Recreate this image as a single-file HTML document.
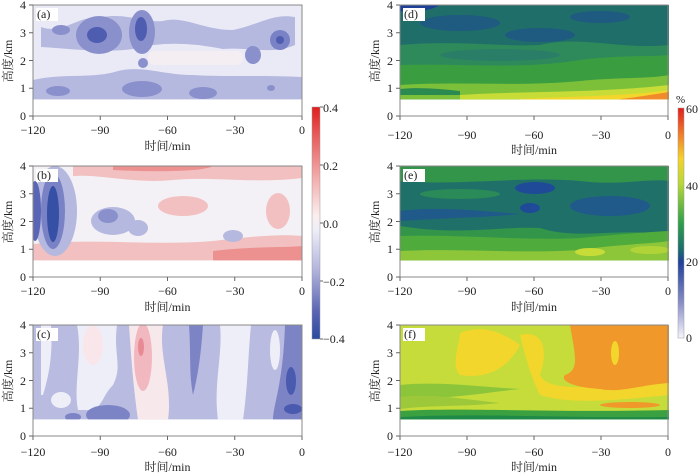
<!DOCTYPE html>
<html><head><meta charset="utf-8"><style>
html,body{margin:0;padding:0;background:#fff;}
svg{display:block;font-family:"Liberation Serif","Noto Serif CJK SC",serif;}
.t{font-size:12px;fill:#222;}
.ax{fill:none;stroke:#888;stroke-width:1;}
</style></head><body>
<svg width="700" height="473" viewBox="0 0 700 473" xmlns="http://www.w3.org/2000/svg">
<defs>
<clipPath id="cp"><rect x="0" y="0" width="269" height="94.4"/></clipPath>
<linearGradient id="gl" x1="0" y1="0" x2="0" y2="1">
<stop offset="0" stop-color="#e01e1e"/><stop offset="0.12" stop-color="#e85a5a"/><stop offset="0.3" stop-color="#f3aaaa"/><stop offset="0.47" stop-color="#fbeeee"/><stop offset="0.53" stop-color="#eeeef8"/><stop offset="0.7" stop-color="#b3b5dd"/><stop offset="0.88" stop-color="#5a66b5"/><stop offset="1" stop-color="#2a4aa0"/>
</linearGradient>
<linearGradient id="gr" x1="0" y1="0" x2="0" y2="1">
<stop offset="0" stop-color="#e01e1e"/><stop offset="0.12" stop-color="#f0822a"/><stop offset="0.22" stop-color="#f5d22a"/><stop offset="0.33" stop-color="#b8d838"/><stop offset="0.5" stop-color="#2ea04a"/><stop offset="0.62" stop-color="#1b6a70"/><stop offset="0.67" stop-color="#1f3f9a"/><stop offset="0.85" stop-color="#8a90c8"/><stop offset="1" stop-color="#f6f6fc"/>
</linearGradient>
</defs>

<!-- Panel a -->
<g transform="translate(33,5)">
<g clip-path="url(#cp)">
<rect width="269" height="95" fill="#eaeaf6"/>
<path d="M8,22 C30,30 45,10 70,12 C95,8 110,18 130,16 C150,10 170,25 200,25 C225,20 240,8 262,12 L262,40 C240,50 215,42 190,44 C160,38 130,36 100,44 C70,48 40,44 8,42 Z" fill="#b5b8df"/>
<path d="M0,75 C30,68 60,74 85,66 C110,60 130,70 160,70 C190,72 230,70 269,72 L269,95 L0,95Z" fill="#b5b8df"/>
<ellipse cx="66" cy="30" rx="23" ry="19" fill="#8a90cc"/><ellipse cx="64" cy="30" rx="10" ry="8" fill="#4f5db1"/>
<ellipse cx="109" cy="27" rx="13" ry="22" fill="#8a90cc"/><ellipse cx="108" cy="24" rx="6" ry="12" fill="#4f5db1"/>
<ellipse cx="109" cy="84" rx="20" ry="8" fill="#8a90cc"/>
<ellipse cx="25" cy="86" rx="12" ry="5" fill="#8a90cc"/>
<ellipse cx="220" cy="50" rx="8" ry="9" fill="#8a90cc"/>
<ellipse cx="247" cy="35" rx="10" ry="10" fill="#7a82c6"/><ellipse cx="247" cy="35" rx="4" ry="4" fill="#4f5db1"/>
<ellipse cx="170" cy="88" rx="14" ry="6" fill="#8a90cc"/>
<ellipse cx="28" cy="25" rx="9" ry="5" fill="#8a90cc"/>
<ellipse cx="110" cy="58" rx="5" ry="5" fill="#8a90cc"/>
<ellipse cx="238" cy="83" rx="4" ry="3" fill="#8a90cc"/>
<rect x="115" y="46" width="95" height="14" rx="7" fill="#f4eef2"/>
</g>
<rect x="0" y="0" width="269" height="111" class="ax"/>
<rect x="3" y="3" width="22" height="13" fill="#fff"/><text x="4" y="13" class="t">(a)</text>
</g>

<!-- Panel b -->
<g transform="translate(33,166)">
<g clip-path="url(#cp)">
<rect width="269" height="95" fill="#f3f1f5"/>
<path d="M40,0 L269,0 L269,12 C220,18 180,10 140,14 C100,18 70,8 40,10Z" fill="#f2c0c0"/>
<path d="M80,0 L180,0 C170,6 120,6 80,4Z" fill="#ec9090"/>
<path d="M0,78 C60,72 120,80 180,75 C220,70 250,68 269,70 L269,95 L0,95Z" fill="#f2c0c0"/>
<path d="M180,85 C220,80 250,82 269,80 L269,95 L180,95Z" fill="#ec9090"/>
<ellipse cx="245" cy="45" rx="12" ry="18" fill="#f2c0c0"/>
<ellipse cx="150" cy="40" rx="25" ry="10" fill="#f2c0c0"/>
<ellipse cx="22" cy="45" rx="22" ry="45" fill="#b5b8df"/>
<ellipse cx="20" cy="45" rx="12" ry="38" fill="#7a82c6"/>
<ellipse cx="20" cy="48" rx="6" ry="28" fill="#3550a4"/>
<ellipse cx="2" cy="45" rx="6" ry="30" fill="#5a66b5"/>
<ellipse cx="80" cy="55" rx="22" ry="14" fill="#b5b8df"/>
<ellipse cx="75" cy="50" rx="10" ry="7" fill="#8a90cc"/>
<ellipse cx="105" cy="62" rx="10" ry="8" fill="#b5b8df"/>
<ellipse cx="200" cy="70" rx="10" ry="6" fill="#b5b8df"/>
</g>
<rect x="0" y="0" width="269" height="111" class="ax"/>
<rect x="3" y="3" width="22" height="13" fill="#fff"/><text x="4" y="13" class="t">(b)</text>
</g>

<!-- Panel c -->
<g transform="translate(33,325)">
<g clip-path="url(#cp)">
<rect width="269" height="95" fill="#b9bbe0"/>
<path d="M8,0 L18,0 C20,30 16,50 10,70 L8,70Z" fill="#eeeef8"/>
<path d="M44,0 L84,0 C80,30 90,40 80,60 C70,70 70,80 60,85 L45,85 C40,60 50,30 44,0Z" fill="#eeeef8"/>
<ellipse cx="60" cy="20" rx="10" ry="20" fill="#f8e6ea"/>
<path d="M96,0 L130,0 C125,30 140,60 135,95 L105,95 C100,60 98,30 96,0Z" fill="#f7e8ec"/>
<ellipse cx="110" cy="32" rx="9" ry="34" fill="#f2b8c0"/>
<ellipse cx="108" cy="22" rx="3" ry="9" fill="#e88a94"/>
<path d="M187,0 L218,0 C215,30 215,60 210,95 L185,95 C180,60 190,30 187,0Z" fill="#eeeef8"/>
<path d="M156,0 L170,0 C168,30 165,50 160,70 C156,50 158,30 156,0Z" fill="#7c84c6"/>
<ellipse cx="242" cy="25" rx="5" ry="20" fill="#eeeef8"/>
<path d="M252,0 L269,0 L269,95 L240,95 C240,80 250,60 252,0Z" fill="#7c84c6"/>
<ellipse cx="258" cy="56" rx="5" ry="14" fill="#4a5aae"/>
<ellipse cx="260" cy="84" rx="9" ry="5" fill="#4a5aae"/>
<ellipse cx="75" cy="90" rx="22" ry="10" fill="#7c84c6"/>
<ellipse cx="40" cy="92" rx="8" ry="4" fill="#7c84c6"/>
<ellipse cx="28" cy="75" rx="10" ry="8" fill="#eeeef8"/>
</g>
<rect x="0" y="0" width="269" height="111" class="ax"/>
<rect x="3" y="3" width="22" height="13" fill="#fff"/><text x="4" y="13" class="t">(c)</text>
</g>

<!-- Panel d -->
<g transform="translate(400,5)">
<g clip-path="url(#cp)">
<rect width="269" height="95" fill="#2e8a5a"/>
<path d="M0,0 L269,0 L269,40 C220,45 180,30 140,40 C100,42 60,35 0,40Z" fill="#1f6e6a"/>
<ellipse cx="60" cy="18" rx="40" ry="8" fill="#1f5a80"/>
<ellipse cx="140" cy="30" rx="35" ry="7" fill="#1f5a80"/>
<ellipse cx="200" cy="12" rx="30" ry="6" fill="#1f5a80"/>
<path d="M0,0 L40,0 C30,6 10,8 0,6Z" fill="#1e3f96"/>
<ellipse cx="100" cy="50" rx="60" ry="6" fill="#2a7e68"/>
<path d="M0,60 C60,58 120,65 180,55 C220,50 250,52 269,50 L269,95 L0,95Z" fill="#3a9e40"/>
<path d="M0,80 C60,76 120,82 180,76 C220,72 250,74 269,70 L269,95 L0,95Z" fill="#7cc03a"/>
<path d="M60,90 C120,86 200,88 269,80 L269,95 L60,95Z" fill="#c8dc38"/>
<path d="M120,94 C180,91 230,91 269,85 L269,95 L120,95Z" fill="#f2d62c"/>
<path d="M220,94 C240,92 255,89 269,87 L269,95 L220,95Z" fill="#f08a2a"/>
<path d="M0,84 C20,82 40,84 60,86 L60,90 L0,90Z" fill="#2a8a50"/>
</g>
<rect x="0" y="0" width="268" height="111" class="ax"/>
<rect x="3" y="3" width="22" height="13" fill="#fff"/><text x="4" y="13" class="t">(d)</text>
</g>

<!-- Panel e -->
<g transform="translate(400,166)">
<g clip-path="url(#cp)">
<rect width="269" height="95" fill="#33954a"/>
<path d="M0,15 C60,20 120,10 180,15 C220,20 250,12 269,15 L269,70 C220,60 180,75 140,62 C100,60 60,70 0,60Z" fill="#20706a"/>
<ellipse cx="135" cy="22" rx="20" ry="6" fill="#1e4a98"/>
<ellipse cx="130" cy="42" rx="10" ry="5" fill="#1e4a98"/>
<path d="M0,45 C40,40 80,45 120,48 C80,52 40,52 0,55Z" fill="#1f5a8a"/>
<ellipse cx="210" cy="40" rx="40" ry="10" fill="#1f5a8a"/>
<ellipse cx="60" cy="28" rx="40" ry="5" fill="#2a8a58"/>
<path d="M0,70 C60,68 120,75 180,72 C220,68 250,66 269,65 L269,95 L0,95Z" fill="#4fab3c"/>
<path d="M0,85 C60,82 120,88 180,84 C220,78 250,78 269,75 L269,95 L0,95Z" fill="#8ec63a"/>
<ellipse cx="190" cy="86" rx="15" ry="4" fill="#c8dc38"/>
<ellipse cx="250" cy="84" rx="20" ry="4" fill="#b0d438"/>
</g>
<rect x="0" y="0" width="268" height="111" class="ax"/>
<rect x="3" y="3" width="22" height="13" fill="#fff"/><text x="4" y="13" class="t">(e)</text>
</g>

<!-- Panel f -->
<g transform="translate(400,325)">
<g clip-path="url(#cp)">
<rect width="269" height="95" fill="#c6dc3a"/>
<path d="M60,8 C80,0 100,5 120,20 C110,40 90,55 60,50 C50,40 60,20 60,8Z" fill="#f2d62c"/>
<path d="M120,10 C140,5 150,20 140,50 C150,70 200,60 269,55 L269,70 C220,75 170,80 140,70 C130,50 125,30 120,10Z" fill="#f2d62c"/>
<path d="M170,0 L269,0 L269,58 C240,60 220,68 200,64 C170,62 160,55 165,50 C180,45 175,30 170,0Z" fill="#f0982a"/>
<ellipse cx="215" cy="28" rx="4" ry="12" fill="#f2d62c"/>
<path d="M0,60 C40,56 80,62 120,64 C80,68 50,75 0,72Z" fill="#8cc43a"/>
<path d="M0,72 C30,68 60,74 100,78 C60,82 30,80 0,84Z" fill="#9cc83a"/>
<path d="M0,86 C60,82 150,88 269,85 L269,95 L0,95Z" fill="#3aa040"/>
<path d="M0,92 C80,88 150,93 269,92 L269,95 L0,95Z" fill="#1f8a48"/>
<ellipse cx="230" cy="80" rx="30" ry="3" fill="#f0982a"/>
</g>
<rect x="0" y="0" width="268" height="111" class="ax"/>
<rect x="3" y="3" width="22" height="13" fill="#fff"/><text x="4" y="13" class="t">(f)</text>
</g>

<g class="t" font-size="12">
<g transform="translate(33,5)">
<path d="M0,0h-4M0,27.75h-4M0,55.5h-4M0,83.25h-4M0,111h-4M0,111v4M67.25,111v4M134.5,111v4M201.75,111v4M269,111v4" stroke="#666"/>
<text x="-7" y="4" text-anchor="end">4</text><text x="-7" y="32" text-anchor="end">3</text><text x="-7" y="60" text-anchor="end">2</text><text x="-7" y="87" text-anchor="end">1</text><text x="-7" y="115" text-anchor="end">0</text>
<text x="0" y="129" text-anchor="middle">−120</text><text x="67" y="129" text-anchor="middle">−90</text><text x="134.5" y="129" text-anchor="middle">−60</text><text x="202" y="129" text-anchor="middle">−30</text><text x="269" y="129" text-anchor="middle">0</text>
<text x="134.5" y="145" text-anchor="middle">时间/min</text>
<text transform="translate(-21,56) rotate(-90)" text-anchor="middle">高度/km</text>
</g>
<g transform="translate(33,166)">
<path d="M0,0h-4M0,27.75h-4M0,55.5h-4M0,83.25h-4M0,111h-4M0,111v4M67.25,111v4M134.5,111v4M201.75,111v4M269,111v4" stroke="#666"/>
<text x="-7" y="4" text-anchor="end">4</text><text x="-7" y="32" text-anchor="end">3</text><text x="-7" y="60" text-anchor="end">2</text><text x="-7" y="87" text-anchor="end">1</text><text x="-7" y="115" text-anchor="end">0</text>
<text x="0" y="129" text-anchor="middle">−120</text><text x="67" y="129" text-anchor="middle">−90</text><text x="134.5" y="129" text-anchor="middle">−60</text><text x="202" y="129" text-anchor="middle">−30</text><text x="269" y="129" text-anchor="middle">0</text>
<text x="134.5" y="145" text-anchor="middle">时间/min</text>
<text transform="translate(-21,56) rotate(-90)" text-anchor="middle">高度/km</text>
</g>
<g transform="translate(33,325)">
<path d="M0,0h-4M0,27.75h-4M0,55.5h-4M0,83.25h-4M0,111h-4M0,111v4M67.25,111v4M134.5,111v4M201.75,111v4M269,111v4" stroke="#666"/>
<text x="-7" y="4" text-anchor="end">4</text><text x="-7" y="32" text-anchor="end">3</text><text x="-7" y="60" text-anchor="end">2</text><text x="-7" y="87" text-anchor="end">1</text><text x="-7" y="115" text-anchor="end">0</text>
<text x="0" y="131" text-anchor="middle">−120</text><text x="67" y="131" text-anchor="middle">−90</text><text x="134.5" y="131" text-anchor="middle">−60</text><text x="202" y="131" text-anchor="middle">−30</text><text x="269" y="131" text-anchor="middle">0</text>
<text x="134.5" y="146" text-anchor="middle">时间/min</text>
<text transform="translate(-21,56) rotate(-90)" text-anchor="middle">高度/km</text>
</g>
<g transform="translate(400,5)">
<path d="M0,0h-4M0,27.75h-4M0,55.5h-4M0,83.25h-4M0,111h-4M0,111v4M67,111v4M134,111v4M201,111v4M268,111v4" stroke="#666"/>
<text x="-7" y="4" text-anchor="end">4</text><text x="-7" y="32" text-anchor="end">3</text><text x="-7" y="60" text-anchor="end">2</text><text x="-7" y="87" text-anchor="end">1</text><text x="-7" y="115" text-anchor="end">0</text>
<text x="0" y="134" text-anchor="middle">−120</text><text x="67" y="134" text-anchor="middle">−90</text><text x="134" y="134" text-anchor="middle">−60</text><text x="201" y="134" text-anchor="middle">−30</text><text x="268" y="134" text-anchor="middle">0</text>
<text x="134" y="149" text-anchor="middle">时间/min</text>
<text transform="translate(-21,56) rotate(-90)" text-anchor="middle">高度/km</text>
</g>
<g transform="translate(400,166)">
<path d="M0,0h-4M0,27.75h-4M0,55.5h-4M0,83.25h-4M0,111h-4M0,111v4M67,111v4M134,111v4M201,111v4M268,111v4" stroke="#666"/>
<text x="-7" y="4" text-anchor="end">4</text><text x="-7" y="32" text-anchor="end">3</text><text x="-7" y="60" text-anchor="end">2</text><text x="-7" y="87" text-anchor="end">1</text><text x="-7" y="115" text-anchor="end">0</text>
<text x="0" y="129" text-anchor="middle">−120</text><text x="67" y="129" text-anchor="middle">−90</text><text x="134" y="129" text-anchor="middle">−60</text><text x="201" y="129" text-anchor="middle">−30</text><text x="268" y="129" text-anchor="middle">0</text>
<text x="134" y="145" text-anchor="middle">时间/min</text>
<text transform="translate(-21,56) rotate(-90)" text-anchor="middle">高度/km</text>
</g>
<g transform="translate(400,325)">
<path d="M0,0h-4M0,27.75h-4M0,55.5h-4M0,83.25h-4M0,111h-4M0,111v4M67,111v4M134,111v4M201,111v4M268,111v4" stroke="#666"/>
<text x="-7" y="4" text-anchor="end">4</text><text x="-7" y="32" text-anchor="end">3</text><text x="-7" y="60" text-anchor="end">2</text><text x="-7" y="87" text-anchor="end">1</text><text x="-7" y="115" text-anchor="end">0</text>
<text x="0" y="131" text-anchor="middle">−120</text><text x="67" y="131" text-anchor="middle">−90</text><text x="134" y="131" text-anchor="middle">−60</text><text x="201" y="131" text-anchor="middle">−30</text><text x="268" y="131" text-anchor="middle">0</text>
<text x="134" y="146" text-anchor="middle">时间/min</text>
<text transform="translate(-21,56) rotate(-90)" text-anchor="middle">高度/km</text>
</g>

<rect x="312" y="107" width="8" height="232" fill="url(#gl)" stroke="#999" stroke-width="0.5"/>
<path d="M320,107h3M320,165h3M320,223h3M320,281h3M320,339h3" stroke="#666"/>
<text x="323" y="112">0.4</text><text x="323" y="170">0.2</text><text x="323" y="228">0.0</text><text x="323" y="286">−0.2</text><text x="323" y="343">−0.4</text>
<rect x="678" y="108" width="6" height="230" fill="url(#gr)" stroke="#999" stroke-width="0.5"/>
<text x="676" y="103" font-size="11">%</text>
<text x="686" y="113">60</text><text x="686" y="190">40</text><text x="686" y="266">20</text><text x="686" y="342">0</text>
</g>
</svg>
</body></html>
